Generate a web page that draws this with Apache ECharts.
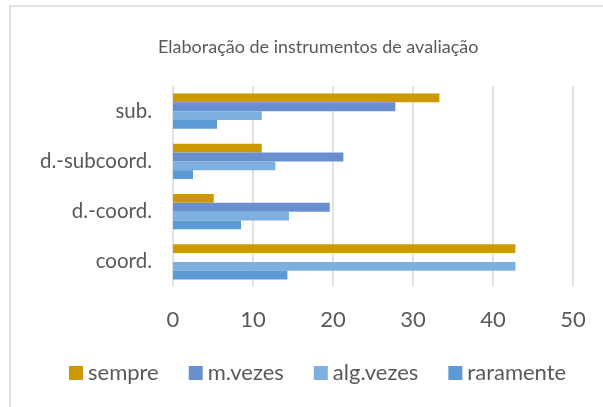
<!DOCTYPE html>
<html>
<head>
<meta charset="utf-8">
<script src="https://cdn.jsdelivr.net/npm/echarts@6/dist/echarts.min.js"></script>
<style>
	html, body { margin: 0; padding: 0; background: #fff; }
	#chart { width: 603px; height: 407px; }
</style>
</head>
<body>
<div id="chart"></div>
<script>
const categories = ["coord.", "d.-coord.", "d.-subcoord.", "sub."];
const sempre = [42.8, 5.1, 11.1, 33.3];
const mVezes = [0, 19.6, 21.3, 27.8];
const algVezes = [42.8, 14.5, 12.8, 11.1];
const raramente = [14.3, 8.5, 2.5, 5.5];
const legendNames = ["sempre", "m.vezes", "alg.vezes", "raramente"];

const font = "Lato, 'Open Sans', sans-serif";
const textColor = "#595959";

let chart = echarts.init(document.getElementById("chart"));

function bar(name, data, color) {
	return {
		name: name,
		type: "bar",
		data: data,
		barGap: "0%",
		barCategoryGap: "30%",
		itemStyle: { color: color }
	};
}

chart.setOption({
	animation: false,
	title: {
		text: "Elaboração de instrumentos de avaliação",
		left: 153,
		top: 33,
		textStyle: { color: textColor, fontSize: 18, fontWeight: "normal", fontFamily: font }
	},
	graphic: [
		{
			type: "rect",
			shape: { x: 10, y: 6, width: 620, height: 420 },
			style: { fill: "none", stroke: "#d9d9d9", lineWidth: 1.5 },
			silent: true
		}
	],
	legend: {
		data: legendNames,
		top: 357,
		left: 64,
		icon: "rect",
		itemWidth: 14,
		itemHeight: 14,
		itemGap: 30,
		textStyle: { color: textColor, fontSize: 22, fontFamily: font }
	},
	grid: {
		left: 173,
		right: 30,
		top: 86,
		bottom: 120,
		containLabel: false
	},
	xAxis: {
		type: "value",
		min: 0,
		max: 50,
		interval: 10,
		axisLine: { show: false },
		axisTick: { show: false },
		axisLabel: { color: textColor, fontSize: 22, fontFamily: font, margin: 22 },
		splitLine: { lineStyle: { color: "#d9d9d9", width: 1.5 } }
	},
	yAxis: {
		type: "category",
		data: categories,
		axisLine: { show: false },
		axisTick: { show: false },
		axisLabel: { color: textColor, fontSize: 20.5, fontFamily: font, margin: 21 }
	},
	series: [
		bar("sempre", sempre, "#cc9a00"),
		bar("m.vezes", mVezes, "#6a8fd1"),
		bar("alg.vezes", algVezes, "#7eb0df"),
		bar("raramente", raramente, "#5b9bd5")
	]
});

window.addEventListener("resize", function () {
	chart.resize();
});
</script>
</body>
</html>
